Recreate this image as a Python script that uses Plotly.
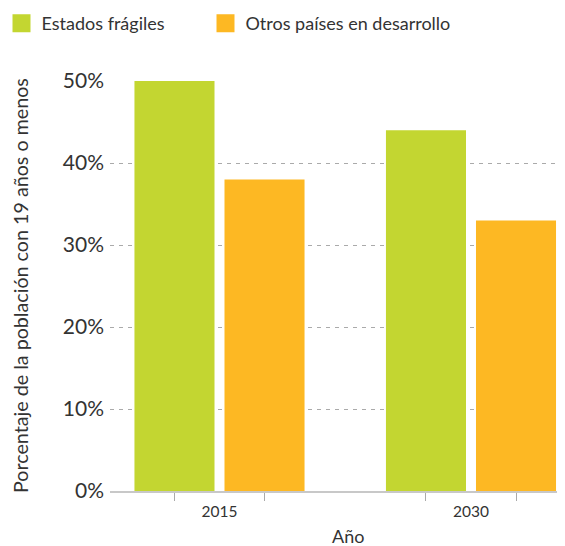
import plotly.graph_objects as go

years = ["2015", "2030"]
fragile = [50, 44]
other = [38, 33]
series_names = ["Estados frágiles", "Otros países en desarrollo"]
colors = ["#C3D631", "#FDB823"]
yticks = [0, 10, 20, 30, 40, 50]

BARGAP = 0.284
BARGROUPGAP = 0.111
xpos = list(range(len(years)))

fig = go.Figure()
for name, vals, col in zip(series_names, [fragile, other], colors):
    fig.add_trace(go.Bar(x=xpos, y=vals, name=name, marker=dict(color=col, line=dict(width=0)),
                         showlegend=False))
# legend entries with larger square symbols, one legend each
for i, (name, col) in enumerate(zip(series_names, colors)):
    fig.add_trace(go.Scatter(x=[None], y=[None], mode="markers", name=name,
                             legend="legend" if i == 0 else "legend2",
                             marker=dict(symbol="square", size=16, color=col,
                                         line=dict(width=2, color=col))))

slot = (1 - BARGAP) / 2
tick_pos = []
for x in xpos:
    tick_pos += [x - slot / 2, x + slot / 2]

font = "Lato, sans-serif"
L, T, B, W, H = 102, 73, 55, 557, 538
plot_w = W - L
plot_h = H - T - B
leg_font = dict(size=18, color="#333333")
leg_y = 1 + (T + 3) / plot_h
fig.update_layout(
    width=W, height=H,
    margin=dict(l=L, r=0, t=T, b=B, autoexpand=False),
    paper_bgcolor="white", plot_bgcolor="white",
    barmode="group", bargap=BARGAP, bargroupgap=BARGROUPGAP,
    font=dict(family=font, color="#333333"),
    legend=dict(orientation="h", x=(-6.5 - L) / plot_w, xanchor="left",
                y=leg_y, yanchor="top", font=leg_font, itemsizing="trace"),
    legend2=dict(orientation="h", x=(197.5 - L) / plot_w, xanchor="left",
                 y=leg_y, yanchor="top", font=leg_font, itemsizing="trace"),
    xaxis=dict(range=[-0.4354, 1.3738], tickvals=xpos, ticktext=years, ticks="",
               showgrid=False, zeroline=False, showline=True, linecolor="#c8c8c8", linewidth=1.5,
               tickfont=dict(size=15.5, color="#333333"), ticklabelstandoff=6,
               minor=dict(tickmode="array", tickvals=tick_pos, ticks="outside", ticklen=8,
                          tickcolor="#aaaaaa", tickwidth=1, showgrid=False)),
    yaxis=dict(range=[0, 50], tickvals=yticks, ticktext=[f"{v}%" for v in yticks],
               showgrid=True, griddash="4px,5px", gridcolor="#aaaaaa", gridwidth=1, zeroline=False,
               showline=False, tickfont=dict(size=21, color="#333333"), ticklabelstandoff=5),
    annotations=[
        dict(text="Año", xref="paper", yref="paper", x=(340 - L) / plot_w, y=0,
             yshift=-45, showarrow=False, yanchor="middle", font=dict(size=18, color="#333333")),
        dict(text="Porcentaje de la población con 19 años o menos", xref="paper", yref="paper",
             x=0, xshift=12 - L, y=0.5, showarrow=False, textangle=-90,
             xanchor="center", yanchor="middle", font=dict(size=19.7, color="#333333")),
    ],
)
fig.write_html("out.html")
